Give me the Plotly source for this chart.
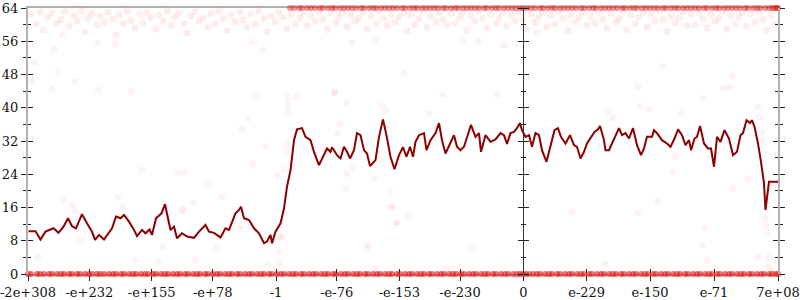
import plotly.graph_objects as go

# ---------------- data ----------------
# x is measured along the ordered float domain (arbitrary position units 0..750)
tick_pos = [0, 61.3, 123.7, 184.7, 248, 308.7, 371.3, 432, 495.3, 558.7, 622, 686, 750]
tick_text = ["-2e+308", "-e+232", "-e+155", "-e+78", "-1", "-e-76", "-e-153", "-e-230",
             "0", "e-229", "e-150", "e-71", "7e+08"]

line_x = [0.5, 7.5, 12.5, 17.5, 22.5, 25.5, 30.5, 35.5, 40, 44, 48, 54, 59, 64, 67, 71, 76, 79, 84, 88,
          92.5, 96, 101, 106, 109, 114, 117.5, 121.5, 124, 128, 133.5, 137, 140, 142.5, 146, 149, 154,
          159, 166, 171, 177.5, 181, 186, 192.5, 197.5, 201, 207.5, 211, 213, 216, 221, 226, 231, 236,
          239, 242.5, 244, 247.5, 252.5, 256, 259, 262.5, 266, 269, 274, 277.5, 282.5, 286, 291, 296,
          299, 302.5, 304, 309, 312.5, 316, 319, 322, 326, 329, 332.5, 336, 339, 342, 347.5, 351, 355,
          358, 362.5, 366.5, 371, 375, 378.5, 382, 385, 387.5, 391, 396, 398.5, 402.5, 407.5, 411, 414,
          417.5, 422.5, 426, 429, 432.5, 436, 439, 443, 447.5, 451, 453, 457.5, 462.5, 467.5, 472.5,
          476, 479, 482.5, 486, 489, 492, 494, 497.5, 501, 504, 507.5, 511, 514, 518.5, 522.5, 526.5,
          530, 533, 537.5, 542, 546, 549, 552.5, 556, 559, 562.5, 566.5, 570, 572, 574, 576, 577.5,
          581, 584, 587.5, 591, 594, 597.5, 601, 605, 609, 613, 616, 619, 624, 626, 629, 634, 639,
          642.5, 646.5, 650, 654, 657.5, 661, 663, 666.5, 669, 672, 676, 680, 683, 686, 689, 692.5,
          696.5, 701, 705, 709, 712.5, 715, 718.5, 722, 724, 726.5, 730, 733, 736, 737.5, 739, 741, 750]
line_y = [10.3, 10.3, 8.3, 10.2, 10.7, 11.0, 9.9, 11.4, 13.4, 11.5, 11.0, 14.4, 12.2, 10.2, 8.2, 9.4,
          8.3, 9.4, 11.0, 13.8, 13.4, 14.2, 12.6, 10.6, 9.1, 10.6, 9.8, 10.7, 9.4, 13.4, 14.6, 16.8,
          13.0, 10.6, 11.4, 8.6, 9.8, 9.0, 8.7, 10.2, 11.8, 10.2, 9.9, 8.8, 11.0, 10.6, 14.6, 15.4,
          16.2, 13.4, 13.0, 11.0, 9.8, 7.4, 7.8, 9.4, 7.4, 10.2, 12.2, 15.8, 21.0, 25.0, 32.2, 34.8,
          35.1, 33.0, 32.2, 29.4, 26.2, 28.6, 30.2, 29.4, 30.5, 28.6, 27.8, 30.6, 29.4, 27.8, 29.8,
          33.9, 33.4, 29.8, 29.0, 26.0, 27.4, 33.0, 37.2, 33.9, 28.2, 25.2, 28.6, 30.5, 28.2, 30.6,
          28.2, 31.8, 33.4, 33.9, 29.8, 32.2, 33.9, 36.3, 32.2, 29.0, 31.8, 33.4, 30.6, 29.8, 30.6,
          33.0, 35.9, 33.0, 33.9, 29.4, 33.4, 31.8, 32.4, 33.9, 33.4, 31.3, 33.9, 34.2, 35.1, 36.3,
          34.6, 33.0, 33.4, 30.6, 33.9, 33.4, 29.8, 27.0, 30.6, 34.6, 35.1, 33.0, 31.4, 33.4, 31.0,
          30.6, 27.8, 29.4, 31.4, 32.6, 34.2, 34.8, 35.6, 33.9, 32.2, 29.8, 29.8, 31.4, 33.4, 35.1,
          33.4, 33.9, 32.6, 35.1, 31.0, 28.6, 30.2, 33.0, 33.0, 34.6, 33.9, 32.2, 31.4, 30.6, 32.6,
          34.8, 33.4, 31.0, 32.2, 29.8, 32.6, 33.0, 35.6, 31.4, 30.2, 30.2, 25.8, 33.0, 31.8, 34.6,
          32.6, 28.6, 29.4, 33.4, 33.9, 37.0, 36.3, 37.0, 35.4, 31.4, 27.0, 21.8, 15.4, 17.8, 22.2,
          22.2]

# raw samples: dense row at 0
zero_row_x = [0, 3, 9, 12, 16, 21, 24, 29, 33, 36, 41, 44, 49, 52, 57, 61, 64, 69, 72, 76, 81, 85,
              88, 93, 96, 101, 105, 108, 113, 117, 120, 125, 128, 133, 137, 140, 145, 149, 152, 157,
              160, 165, 169, 172, 177, 180, 185, 189, 192, 197, 201, 204, 209, 212, 217, 221, 224,
              229, 233, 236, 241, 244, 249, 253, 256, 261, 265, 268, 273, 276, 281, 285, 288, 293,
              297, 300, 305, 308, 313, 317, 320, 325, 329, 332, 337, 340, 345, 349, 352, 357, 361,
              364, 369, 372, 377, 381, 384, 389, 393, 396, 401, 404, 409, 413, 416, 421, 425, 428,
              433, 436, 441, 445, 448, 453, 457, 460, 465, 468, 473, 477, 480, 485, 489, 492, 495,
              498, 501, 505, 509, 512, 517, 521, 524, 529, 532, 537, 541, 544, 549, 553, 556, 561,
              564, 569, 573, 576, 581, 585, 588, 593, 596, 601, 605, 608, 613, 617, 620, 625, 628,
              633, 637, 640, 645, 649, 652, 657, 660, 665, 669, 672, 677, 681, 684, 689, 692, 697,
              701, 704, 709, 713, 716, 721, 724, 729, 733, 736, 741, 744, 748, 750]
# raw samples: dense row at 64
top_row_x = [262, 266, 271, 274, 279, 283, 287, 292, 295, 300, 304, 307, 312, 316, 320, 324, 328,
             333, 336, 341, 345, 348, 353, 357, 361, 365, 369, 374, 377, 382, 386, 389, 394, 398,
             402, 406, 410, 415, 418, 423, 427, 430, 435, 439, 443, 447, 451, 456, 459, 464, 468,
             471, 476, 480, 484, 488, 492, 495, 499, 503, 507, 512, 515, 520, 524, 527, 532, 536,
             540, 544, 548, 553, 556, 561, 565, 568, 573, 577, 581, 585, 589, 594, 597, 602, 606,
             609, 614, 618, 622, 626, 630, 635, 638, 643, 647, 650, 655, 659, 663, 667, 671, 676,
             679, 684, 688, 691, 696, 700, 704, 708, 712, 717, 720, 725, 729, 732, 737, 741, 744,
             746, 748, 749, 750]
# raw samples: band just under the top
band_x = [3, 8, 12, 15, 20, 24, 29, 33, 37, 41, 46, 49, 53, 57, 60, 64, 69, 72, 76, 80, 85, 88, 91,
          95, 99, 103, 107, 112, 115, 119, 123, 128, 131, 135, 139, 143, 147, 151, 156, 159, 163,
          167, 171, 175, 180, 183, 187, 191, 195, 199, 203, 207, 212, 215, 219, 223, 227, 231, 236,
          239, 243, 247, 251, 255, 259, 263, 267, 272, 275, 279, 283, 287, 291, 295, 299, 303, 308,
          311, 315, 319, 323, 327, 331, 335, 339, 343, 348, 351, 355, 359, 363, 367, 371, 376, 379,
          383, 387, 391, 395, 399, 403, 408, 411, 415, 419, 423, 427, 432, 435, 439, 443, 447, 451,
          455, 459, 463, 468, 471, 475, 479, 483, 487, 491, 495, 499, 503, 507, 511, 515, 519, 523,
          527, 531, 535, 540, 543, 547, 551, 555, 559, 563, 567, 571, 575, 579, 583, 588, 591, 595,
          599, 603, 607, 611, 615, 619, 623, 627, 631, 635, 639, 643, 647, 651, 655, 659, 663, 667,
          671, 675, 679, 683, 687, 691, 695, 699, 703, 707, 711, 715, 719, 723, 727, 731, 735, 739,
          743, 747]
band_y = [62.5, 60.1, 63.0, 58.7, 61.8, 62.9, 60.4, 61.2, 63.1, 59.6, 62.2, 60.9, 63.3, 58.2, 61.6,
          62.7, 59.9, 62.1, 60.6, 63.0, 61.3, 57.5, 62.4, 60.2, 63.2, 61.0, 59.1, 62.6, 60.4, 63.0,
          61.7, 58.9, 62.3, 60.8, 63.2, 59.7, 61.9, 62.8, 60.3, 57.9, 62.1, 63.1, 60.9, 61.6, 59.4,
          62.7, 60.2, 63.3, 61.4, 58.6, 62.4, 60.7, 63.0, 61.2, 59.3, 62.6, 60.1, 63.2, 61.5, 58.4,
          62.0, 60.6, 63.1, 61.8, 59.0, 62.5, 60.3, 61.7, 63.0, 59.8, 62.2, 60.9, 63.2, 61.3, 58.8,
          62.7, 60.5, 61.9, 63.0, 59.5, 62.3, 60.8, 61.6, 63.1, 58.9, 62.0, 60.2, 63.2, 61.4, 59.7,
          62.6, 60.6, 61.9, 63.0, 58.5, 62.4, 60.0, 61.5, 63.2, 59.3, 62.1, 60.7, 63.0, 61.3, 59.9,
          62.8, 60.4, 61.8, 63.1, 58.7, 62.2, 60.9, 63.2, 61.5, 59.2, 62.5, 60.3, 61.7, 63.0, 59.6,
          62.3, 60.8, 63.2, 61.1, 58.9, 62.6, 60.5, 61.9, 63.0, 59.4, 62.2, 60.1, 63.2, 61.6, 58.6,
          62.4, 60.7, 61.8, 63.1, 59.8, 62.0, 60.4, 63.0, 61.3, 59.1, 62.7, 60.6, 61.5, 63.2, 58.8,
          62.3, 60.2, 61.8, 63.0, 59.5, 62.5, 60.9, 63.2, 61.2, 58.4, 62.1, 60.5, 61.7, 63.1, 59.7,
          62.6, 60.0, 63.0, 61.4, 59.2, 62.4, 60.8, 61.6, 63.2, 58.9, 62.2, 60.3, 61.9, 63.0, 59.6,
          62.7, 60.6, 63.1, 61.3, 58.7, 62.3, 60.1]
# raw samples: scattered elsewhere
sparse_x = [26, 7, 30, 47, 24, 70, 103, 87, 69, 34, 4, 44, 95, 155, 165, 52, 10, 107, 131, 167, 135,
            363, 369, 212, 189, 252, 251, 251, 340, 339, 240, 346, 380, 444, 419, 544, 577, 610, 630,
            677, 675, 679, 737, 738, 739, 740, 740, 744, 730, 35, 47, 90, 114, 150, 157, 180, 154,
            229, 260, 268, 307, 319, 260, 260, 220, 214, 354, 358, 312, 309, 237, 258, 259, 225, 266,
            256, 249, 325, 319, 347, 318, 362, 364, 194, 368, 253, 580, 585, 612, 621, 653, 730, 732,
            734, 734, 647, 645, 720, 705, 635, 610, 704, 696, 702, 675, 235, 376, 306, 401, 469, 415,
            224, 324, 347, 435, 450, 476, 509]
sparse_y = [54.1, 50.8, 48.6, 46.4, 44.5, 44.3, 44.0, 55.3, 55.6, 57.7, 46.2, 16.6, 16.1, 15.4, 17.1,
            8.4, 4.1, 3.4, 3.1, 3.4, 6.5, 16.1, 12.3, 11.1, 6.3, 8.9, 5.3, 2.6, 7.0, 6.3, 2.2, 1.4,
            14.0, 6.3, 1.4, 14.9, 2.4, 14.7, 17.6, 11.1, 7.0, 3.1, 13.5, 11.8, 9.9, 4.1, 1.7, 0.7,
            4.1, 18.0, 15.2, 18.5, 25.0, 24.3, 24.5, 21.9, 15.2, 42.8, 42.6, 42.6, 43.6, 41.1, 40.7,
            39.0, 37.5, 34.9, 40.4, 39.0, 36.1, 33.9, 30.6, 31.3, 29.6, 26.5, 25.5, 25.0, 23.8, 25.7,
            24.1, 22.9, 20.5, 19.7, 16.1, 18.5, 12.3, 8.9, 39.2, 37.5, 40.4, 39.7, 38.7, 40.2, 37.8,
            34.2, 32.2, 28.2, 24.5, 22.9, 20.5, 50.0, 45.2, 47.6, 44.8, 45.0, 42.3, 53.9, 48.4, 43.8,
            38.7, 43.3, 43.3, 55.8, 55.6, 56.3, 56.1, 56.1, 55.1, 58.2]

# ---------------- figure ----------------
RED = "rgb(230,25,25)"
fig = go.Figure()
fig.add_trace(go.Scatter(x=band_x, y=band_y, mode="markers", cliponaxis=False,
                         marker=dict(size=7, color=RED, opacity=0.08, line=dict(width=0))))
fig.add_trace(go.Scatter(x=sparse_x, y=sparse_y, mode="markers", cliponaxis=False,
                         marker=dict(size=7, color=RED, opacity=0.05, line=dict(width=0))))
fig.add_trace(go.Scatter(x=zero_row_x, y=[0] * len(zero_row_x), mode="markers", cliponaxis=False,
                         marker=dict(size=6, color=RED, opacity=0.6, line=dict(width=0))))
fig.add_trace(go.Scatter(x=top_row_x, y=[64] * len(top_row_x), mode="markers", cliponaxis=False,
                         marker=dict(size=6, color=RED, opacity=0.45, line=dict(width=0))))
fig.add_trace(go.Scatter(x=line_x, y=line_y, mode="lines",
                         line=dict(color="#8b0000", width=2)))
# carriers for the helper axes
fig.add_trace(go.Scatter(x=[], y=[], xaxis="x2", yaxis="y2", showlegend=False))
fig.add_trace(go.Scatter(x=[], y=[], xaxis="x", yaxis="y3", showlegend=False))
fig.add_trace(go.Scatter(x=[], y=[], xaxis="x", yaxis="y4", showlegend=False))

FONT = "DejaVu Serif, Liberation Serif, serif"
TICKC = "#222"
GRAY = "#b0b0b0"
xr = [0, 750]
yr = [0, 64]
common_y = dict(range=yr, tick0=0, dtick=8, showgrid=False, zeroline=False, fixedrange=True,
                automargin=False)

fig.update_layout(
    width=800, height=300, showlegend=False,
    margin=dict(l=28, r=22, t=8, b=26, autoexpand=False),
    paper_bgcolor="white", plot_bgcolor="white",
    font=dict(family=FONT, size=13, color="#111"),
    xaxis=dict(range=xr, tickmode="array", tickvals=tick_pos, ticktext=tick_text, automargin=False,
               ticklabeloverflow="allow", layer="below traces",
               ticks="outside", ticklen=5, tickwidth=1, tickcolor=TICKC,
               showline=True, linecolor=GRAY, linewidth=2, mirror=True,
               showgrid=False, zeroline=False, tickfont=dict(family=FONT, size=13, color="#111")),
    xaxis2=dict(range=xr, overlaying="x", anchor="y2", side="bottom", tickmode="array",
                tickvals=tick_pos, ticks="inside", ticklen=5, tickwidth=1, tickcolor=TICKC,
                automargin=False, layer="below traces",
                showticklabels=False, showline=False, showgrid=False, zeroline=False),
    yaxis=dict(**common_y, ticks="outside", ticklen=5, tickwidth=1, tickcolor=TICKC,
               showline=True, linecolor=GRAY, linewidth=2, mirror="ticks",
               minor=dict(ticks="outside", ticklen=3, tickcolor=TICKC, tick0=0, dtick=4),
               tickfont=dict(family=FONT, size=13, color="#111")),
    yaxis2=dict(**common_y, overlaying="y", anchor="x2", side="left",
                ticks="inside", ticklen=5, tickwidth=1, tickcolor=TICKC,
                showline=True, linecolor=GRAY, linewidth=2, mirror="ticks",
                minor=dict(ticks="inside", ticklen=3, tickcolor=TICKC, tick0=0, dtick=4),
                showticklabels=False),
    yaxis3=dict(**common_y, overlaying="y", anchor="free", position=495.3 / 750, side="left",
                ticks="outside", ticklen=5, tickwidth=1, tickcolor=TICKC,
                showline=True, linecolor="#333", linewidth=1,
                minor=dict(ticks="outside", ticklen=2, tickcolor=TICKC, tick0=0, dtick=4),
                showticklabels=False),
    yaxis4=dict(**common_y, overlaying="y", anchor="free", position=495.3 / 750, side="right",
                ticks="outside", ticklen=5, tickwidth=1, tickcolor=TICKC,
                showline=True, linecolor="#333", linewidth=1,
                minor=dict(ticks="outside", ticklen=2, tickcolor=TICKC, tick0=0, dtick=4),
                showticklabels=False),
)

fig.write_html("out.html")
